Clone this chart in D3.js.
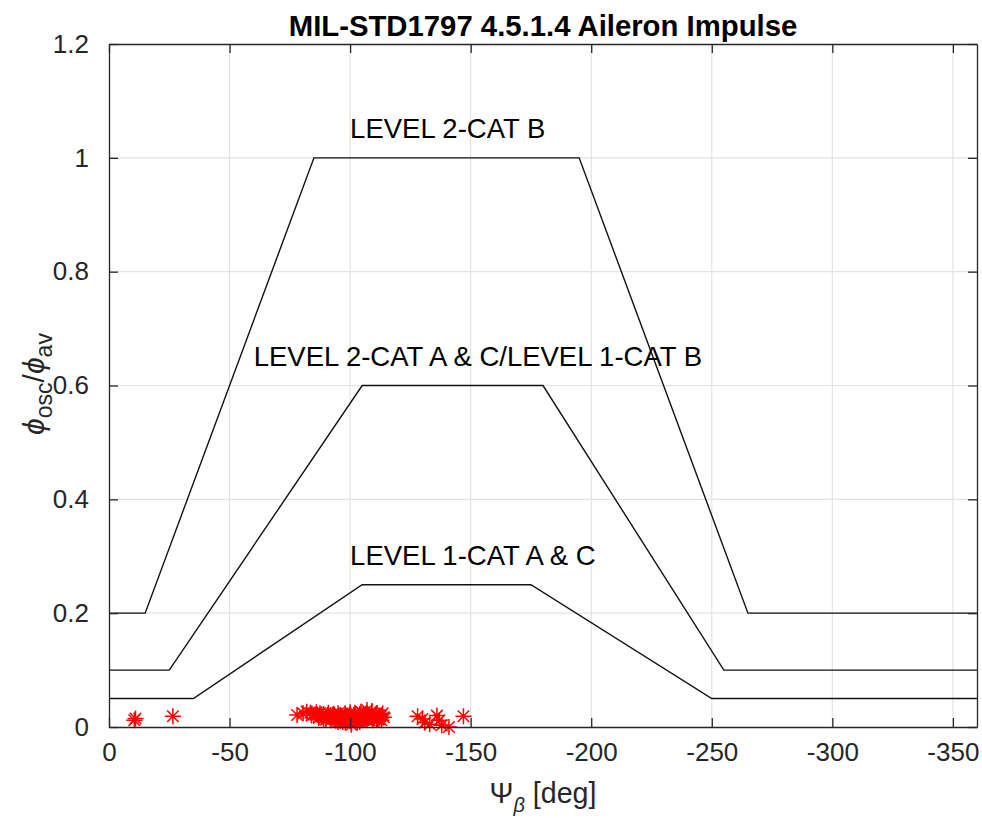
<!DOCTYPE html>
<html>
<head>
<meta charset="utf-8">
<script src="https://cdn.jsdelivr.net/npm/d3@7"></script>
<style>
  body { margin: 0; background: #fff; }
  svg { display: block; font-family: "Liberation Sans", Arial, sans-serif; }
</style>
</head>
<body>
<svg id="chart"></svg>
<script>
// boundary curves (x in deg, y = phi_osc/phi_av)
const level2CatB_x = [0, -15, -85, -195, -265, -360];
const level2CatB_y = [0.2, 0.2, 1, 1, 0.2, 0.2];
const level2CatAC_x = [0, -25, -105, -180, -255, -360];
const level2CatAC_y = [0.1, 0.1, 0.6, 0.6, 0.1, 0.1];
const level1CatAC_x = [0, -35, -105, -175, -250, -360];
const level1CatAC_y = [0.05, 0.05, 0.25, 0.25, 0.05, 0.05];

// measured points
const test_x = [-10.5, -11, -26.5,
  -78, -80.5, -82, -83.5, -85, -86, -87.5, -88, -89, -90, -91, -92, -92.5, -93, -94, -95, -95.5,
  -96, -97, -98, -98.5, -99, -100, -100.5, -101, -102, -102.5, -103, -104, -104.5, -105, -105.5,
  -106, -107, -107.5, -108, -109, -109.5, -110, -111, -112, -113, -114, -100, -103, -106, -94, -97,
  -84, -86.5, -88.5, -90.5, -91.5, -93.5, -94.5, -96.5, -97.5, -99.5, -101.5, -103.5, -105, -106.5,
  -108.5, -110.5, -111.5, -112.5, -113.5, -89, -92, -95, -98, -101, -104, -107, -110, -113, -87,
  -90, -93, -96, -99, -102, -105, -108, -111, -100, -104, -107, -109, -112, -98, -95,
  -128, -130, -131, -133, -136, -137, -138, -141, -147];
const test_y = [0.012, 0.015, 0.019,
  0.021, 0.024, 0.027, 0.025, 0.022, 0.026, 0.024, 0.020, 0.023, 0.018, 0.025, 0.021, 0.016, 0.023, 0.019, 0.024, 0.015,
  0.021, 0.017, 0.024, 0.013, 0.020, 0.022, 0.004, 0.017, 0.025, 0.012, 0.021, 0.018, 0.027, 0.014, 0.023,
  0.019, 0.030, 0.016, 0.022, 0.026, 0.012, 0.019, 0.024, 0.015, 0.021, 0.017, 0.010, 0.008, 0.013, 0.011, 0.009,
  0.020, 0.022, 0.018, 0.021, 0.017, 0.022, 0.015, 0.019, 0.016, 0.018, 0.021, 0.015, 0.020, 0.016,
  0.018, 0.022, 0.013, 0.019, 0.024, 0.014, 0.012, 0.019, 0.020, 0.014, 0.023, 0.012, 0.015, 0.012, 0.016,
  0.013, 0.018, 0.011, 0.016, 0.019, 0.016, 0.020, 0.014, 0.026, 0.009, 0.018, 0.028, 0.020, 0.008, 0.009,
  0.019, 0.014, 0.008, 0.005, 0.020, 0.012, 0.003, 0.000, 0.019];

const xTicks = [0, -50, -100, -150, -200, -250, -300, -350];
const xTickLabels = ["0", "-50", "-100", "-150", "-200", "-250", "-300", "-350"];
const yTicks = [0, 0.2, 0.4, 0.6, 0.8, 1, 1.2];
const yTickLabels = ["0", "0.2", "0.4", "0.6", "0.8", "1", "1.2"];

const annoText = ["LEVEL 2-CAT B", "LEVEL 2-CAT A & C/LEVEL 1-CAT B", "LEVEL 1-CAT A & C"];
const annoX = [-100, -60, -100];
const annoY = [1.05, 0.65, 0.3];

const width = 982, height = 818;
const margin = {top: 44, right: 5, bottom: 91, left: 109};
const axisColor = "#262626";

const svg = d3.select("#chart").attr("width", width).attr("height", height);

const x = d3.scaleLinear().domain([0, -360]).range([margin.left, width - margin.right]);
const y = d3.scaleLinear().domain([0, 1.2]).range([height - margin.bottom, margin.top]);

// grid
svg.append("g")
  .selectAll("line")
  .data(xTicks.slice(1))
  .enter().append("line")
  .attr("x1", d => x(d)).attr("x2", d => x(d))
  .attr("y1", y(0)).attr("y2", y(1.2))
  .attr("stroke", "#e3e3e3").attr("stroke-width", 1.2);
svg.append("g")
  .selectAll("line")
  .data(yTicks.slice(1, -1))
  .enter().append("line")
  .attr("x1", x(0)).attr("x2", x(-360))
  .attr("y1", d => y(d)).attr("y2", d => y(d))
  .attr("stroke", "#e3e3e3").attr("stroke-width", 1.2);

// boundary lines
const line = d3.line().x(d => x(d[0])).y(d => y(d[1]));
[[level2CatB_x, level2CatB_y], [level2CatAC_x, level2CatAC_y], [level1CatAC_x, level1CatAC_y]].forEach(s => {
  svg.append("path")
    .datum(d3.zip(s[0], s[1]))
    .attr("d", line)
    .attr("fill", "none")
    .attr("stroke", "#111")
    .attr("stroke-width", 1.4);
});

// asterisk markers
const r = 8, rd = r * 0.72;
const star = `M${-r},0L${r},0M0,${-r}L0,${r}M${-rd},${-rd}L${rd},${rd}M${-rd},${rd}L${rd},${-rd}`;
svg.append("g")
  .selectAll("path")
  .data(d3.zip(test_x, test_y))
  .enter().append("path")
  .attr("transform", d => `translate(${x(d[0])},${y(d[1])})`)
  .attr("d", star)
  .attr("fill", "none")
  .attr("stroke", "#ff0000")
  .attr("stroke-width", 1.5);

// annotations
svg.append("g")
  .selectAll("text")
  .data(annoText)
  .enter().append("text")
  .attr("x", (d, i) => x(annoX[i]))
  .attr("y", (d, i) => y(annoY[i]) + 9)
  .attr("font-size", 27.5)
  .attr("fill", "#000")
  .text(d => d);

// axes (box with inward ticks)
const tickLen = 9;
const xAxis = d3.axisBottom(x).tickValues(xTicks).tickFormat((d, i) => xTickLabels[i]).tickSizeInner(-tickLen).tickSizeOuter(0).tickPadding(16);
const yAxis = d3.axisLeft(y).tickValues(yTicks).tickFormat((d, i) => yTickLabels[i]).tickSizeInner(-tickLen).tickSizeOuter(0).tickPadding(20);
const xTop = d3.axisTop(x).tickValues(xTicks).tickFormat("").tickSizeInner(-tickLen).tickSizeOuter(0);
const yRight = d3.axisRight(y).tickValues(yTicks).tickFormat("").tickSizeInner(-tickLen).tickSizeOuter(0);

function style(g) {
  g.selectAll("path").attr("stroke", axisColor).attr("stroke-width", 1.3);
  g.selectAll("line").attr("stroke", axisColor).attr("stroke-width", 1.3);
  g.selectAll("text").attr("fill", axisColor).attr("font-size", 26).attr("font-family", "Liberation Sans, Arial, sans-serif");
}

svg.append("g").attr("transform", `translate(0,${y(0)})`).call(xAxis).call(style);
svg.append("g").attr("transform", `translate(${x(0)},0)`).call(yAxis).call(style);
svg.append("g").attr("transform", `translate(0,${y(1.2)})`).call(xTop).call(style);
svg.append("g").attr("transform", `translate(${x(-360)},0)`).call(yRight).call(style);

// title
svg.append("text")
  .attr("x", (x(0) + x(-360)) / 2)
  .attr("y", 36)
  .attr("text-anchor", "middle")
  .attr("font-size", 29.3)
  .attr("font-weight", "bold")
  .attr("fill", "#000")
  .text("MIL-STD1797 4.5.1.4 Aileron Impulse");

// x label
const xl = svg.append("text")
  .attr("x", (x(0) + x(-360)) / 2)
  .attr("y", 803)
  .attr("text-anchor", "middle")
  .attr("font-size", 28.6)
  .attr("fill", axisColor);
xl.append("tspan").text("\u03A8");
xl.append("tspan").attr("font-style", "italic").attr("font-size", 20).attr("dy", 9).text("\u03B2");
xl.append("tspan").attr("dy", -9).text(" [deg]");

// y label
const yl = svg.append("text")
  .attr("transform", `translate(44,384) rotate(-90)`)
  .attr("text-anchor", "middle")
  .attr("font-size", 30)
  .attr("fill", axisColor);
yl.append("tspan").attr("font-style", "italic").text("\u03D5");
yl.append("tspan").attr("font-size", 23).attr("dy", 8).text("osc");
yl.append("tspan").attr("dy", -8).text("/");
yl.append("tspan").attr("font-style", "italic").text("\u03D5");
yl.append("tspan").attr("font-size", 23).attr("dy", 8).text("av");
</script>
</body>
</html>
